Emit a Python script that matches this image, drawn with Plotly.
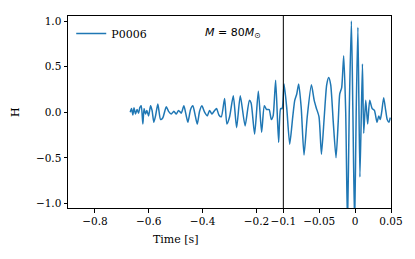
import plotly.graph_objects as go

# ---- data (time in seconds, strain H) ----
time_s = [
    -0.6688, -0.6639, -0.6591, -0.6546, -0.6491, -0.6435, -0.6379, -0.6331, -0.6279, -0.6219,
    -0.6175, -0.6119, -0.6071, -0.6007, -0.5933, -0.5877, -0.5810, -0.5747, -0.5662, -0.5561,
    -0.5476, -0.5349, -0.5264, -0.5164, -0.5067, -0.4978, -0.4892, -0.4792, -0.4695, -0.4606,
    -0.4546, -0.4446, -0.4361, -0.4271, -0.4197, -0.4112, -0.4026, -0.3926, -0.3825, -0.3740,
    -0.3654, -0.3554, -0.3480, -0.3394, -0.3305, -0.3182, -0.3097, -0.2996, -0.2859, -0.2736,
    -0.2599, -0.2420, -0.2264, -0.2197, -0.2067, -0.1929, -0.1807, -0.1706, -0.1621, -0.1528,
    -0.1446, -0.1379, -0.1286, -0.1175, -0.1100, -0.1045,
    -0.0990, -0.0953, -0.0911, -0.0869, -0.0841, -0.0813, -0.0786, -0.0751, -0.0712, -0.0667,
    -0.0609, -0.0570, -0.0542, -0.0503, -0.0469, -0.0430, -0.0396, -0.0368, -0.0340, -0.0305,
    -0.0266, -0.0235, -0.0214, -0.0187, -0.0159, -0.0131, -0.0106, -0.0082, -0.0052, -0.0031,
    -0.0007, 0.0015, 0.0039, 0.0067, 0.0102, 0.0120, 0.0148, 0.0175, 0.0203, 0.0238,
    0.0269, 0.0305, 0.0329, 0.0350, 0.0370, 0.0398, 0.0426, 0.0447, 0.0472, 0.0489,
]
strain_h = [
    0.00, 0.04, -0.03, 0.05, -0.02, 0.03, -0.01, 0.05, 0.07, -0.13,
    0.04, -0.02, 0.02, -0.04, 0.07, 0.02, -0.11, -0.04, 0.09, -0.08,
    -0.06, 0.06, 0.01, -0.02, 0.01, -0.02, 0.02, -0.01, 0.07, -0.04,
    -0.11, 0.03, 0.07, -0.04, -0.13, 0.01, 0.07, 0.00, -0.04, 0.02,
    -0.02, 0.02, 0.04, -0.03, -0.05, 0.15, -0.13, -0.05, 0.18, -0.17,
    0.18, -0.15, 0.13, 0.10, -0.24, 0.23, -0.22, 0.07, 0.03, 0.03,
    -0.08, -0.04, 0.35, -0.33, 0.04, 0.04,
    0.31, 0.05, -0.35, -0.05, 0.13, 0.20, 0.31, 0.05, -0.47, -0.05,
    0.30, 0.13, 0.05, -0.05, -0.46, -0.05, 0.30, 0.38, 0.30, -0.10,
    -0.50, -0.10, 0.20, 0.27, 0.62, 0.00, -1.25, 0.00, 1.00, 0.00,
    -1.25, 0.00, 0.93, -0.71, 0.53, -0.23, 0.13, -0.13, 0.13, 0.04,
    0.02, -0.11, -0.04, -0.08, 0.00, 0.16, 0.02, -0.08, -0.11, -0.06,
]
x_tick_values = [-0.8, -0.6, -0.4, -0.2, -0.1, -0.05, 0.0, 0.05]
x_tick_labels = ["−0.8", "−0.6", "−0.4", "−0.2", "−0.1", "−0.05", "0", "0.05"]
y_tick_values = [-1.0, -0.5, 0.0, 0.5, 1.0]
y_tick_labels = ["−1.0", "−0.5", "0.0", "0.5", "1.0"]
series_name = "P0006"

# broken time axis: the last 0.15 s is stretched (two panels side by side)
BREAK = -0.1
STRETCH = 8.0 / 3.0


def warp(t):
    return t if t <= BREAK else BREAK + (t - BREAK) * STRETCH


x_warped = [warp(t) for t in time_s]

SERIF = "DejaVu Serif"
fig = go.Figure()
fig.add_trace(go.Scatter(
    x=x_warped, y=strain_h, mode="lines", name=series_name,
    line=dict(color="#1f77b4", width=1.5, shape="spline", smoothing=0.6),
    showlegend=True,
))

fig.add_shape(type="line", xref="x", yref="paper", x0=warp(-0.1), x1=warp(-0.1),
              y0=0, y1=1, line=dict(color="black", width=1))

fig.update_layout(
    width=407, height=251,
    margin=dict(l=60, r=24, t=7.5, b=51.3, autoexpand=False),
    paper_bgcolor="white", plot_bgcolor="white",
    font=dict(family=SERIF, size=10.5, color="black"),
    showlegend=True,
    legend=dict(x=0.01, y=0.985, xanchor="left", yanchor="top",
                bgcolor="rgba(0,0,0,0)", font=dict(family=SERIF, size=11),
                itemwidth=30),
    xaxis=dict(range=[warp(-0.9), warp(0.05)], tickvals=[warp(v) for v in x_tick_values],
               ticktext=x_tick_labels, ticks="outside", ticklen=3.5, tickcolor="black",
               tickangle=0, automargin=False,
               tickfont=dict(family=SERIF, size=10.5),
               showline=True, linecolor="black", linewidth=1, mirror=True,
               showgrid=False, zeroline=False),
    yaxis=dict(range=[-1.05, 1.055], tickvals=y_tick_values, ticktext=y_tick_labels,
               ticks="outside", ticklen=3.5, tickcolor="black", automargin=False,
               tickfont=dict(family=SERIF, size=10.5),
               showline=True, linecolor="black", linewidth=1, mirror=True,
               showgrid=False, zeroline=False),
    annotations=[
        dict(text="<i>M</i> = 80<i>M</i><sub>⊙</sub>", xref="paper", yref="paper",
             x=0.418, y=0.91, xanchor="left", yanchor="middle", showarrow=False,
             font=dict(family="DejaVu Sans", size=11)),
        dict(text="Time [s]", xref="x", yref="paper", x=-0.5, y=-0.165,
             xanchor="center", yanchor="middle", showarrow=False,
             font=dict(family=SERIF, size=11)),
        dict(text="H", xref="paper", yref="paper", x=-0.164, y=0.5, textangle=-90,
             xanchor="center", yanchor="middle", showarrow=False,
             font=dict(family=SERIF, size=11)),
    ],
)

fig.write_html("out.html")
